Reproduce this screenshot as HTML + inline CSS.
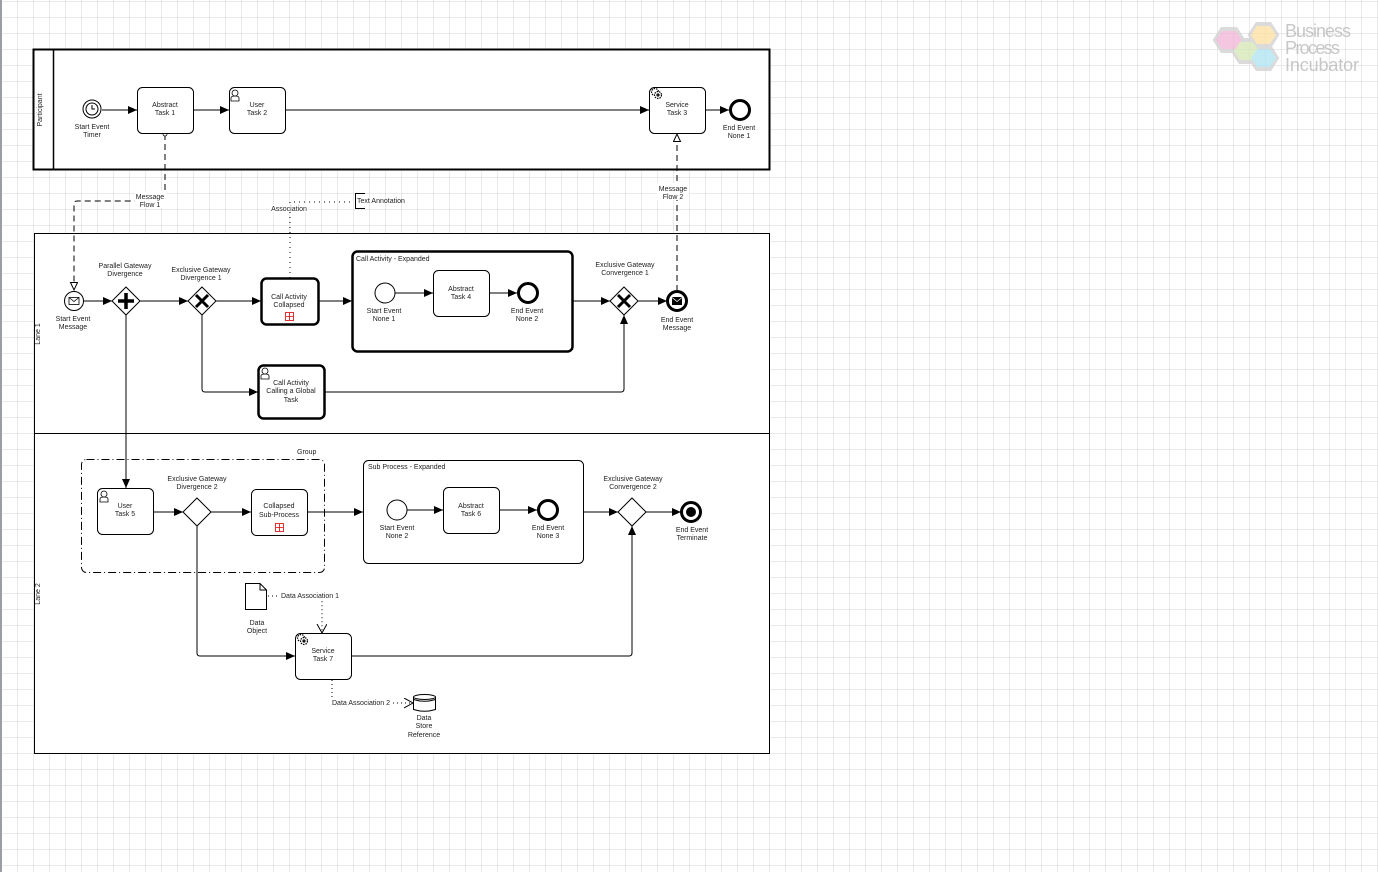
<!DOCTYPE html>
<html><head><meta charset="utf-8"><style>
html,body{margin:0;padding:0;background:#fff;}
body{width:1378px;height:872px;overflow:hidden;}
svg{display:block;}
text{font-family:"Liberation Sans",sans-serif;font-size:7px;fill:#222;}
</style></head><body>
<svg width="1378" height="872" xmlns="http://www.w3.org/2000/svg">
<defs>
<pattern id="g" x="1" y="1" width="16" height="16" patternUnits="userSpaceOnUse">
<path d="M0 0H16M0 0V16" stroke="#d4d4d4" stroke-width="1" fill="none"/>
</pattern>
<marker id="a" markerWidth="10" markerHeight="8" refX="9" refY="4" orient="auto" markerUnits="userSpaceOnUse"><path d="M0 0L9 4L0 8z" fill="#000"/></marker>
<marker id="ot" markerWidth="10" markerHeight="10" refX="8" refY="4" orient="auto" markerUnits="userSpaceOnUse"><path d="M0.5 0.5L8 4L0.5 7.5z" fill="#fff" stroke="#000" stroke-width="1"/></marker>
<marker id="oc" markerWidth="6" markerHeight="6" refX="3" refY="3" orient="auto" markerUnits="userSpaceOnUse"><circle cx="3" cy="3" r="2" fill="#fff" stroke="#000" stroke-width="0.8"/></marker>
<marker id="va" markerWidth="12" markerHeight="12" refX="9" refY="5" orient="auto" markerUnits="userSpaceOnUse"><path d="M0 0L9 5L0 10" fill="none" stroke="#000" stroke-width="1"/></marker>
</defs>
<rect width="1378" height="872" fill="url(#g)"/>
<rect x="0" y="0" width="2" height="872" fill="#9a9ea4"/>

<!-- logo -->
<g opacity="0.75">
<g fill="none" stroke="#cfcfcf" stroke-width="4">
<polygon points="1222,29 1236,29 1243,40 1236,51 1222,51 1215,40"/>
<polygon points="1257,24 1270,24 1277,35 1270,46 1257,46 1250,35"/>
<polygon points="1240,40 1253,40 1260,51 1253,62 1240,62 1233,51"/>
<polygon points="1257,47 1270,47 1277,58 1270,69 1257,69 1250,58"/>
</g>
<polygon points="1222,31 1236,31 1242,40 1236,49 1222,49 1216,40" fill="#f1b3d5"/>
<polygon points="1257,26 1270,26 1276,35 1270,44 1257,44 1251,35" fill="#fde0a0"/>
<polygon points="1240,42 1253,42 1259,51 1253,60 1240,60 1234,51" fill="#d5e8b5"/>
<polygon points="1257,49 1270,49 1276,58 1270,67 1257,67 1251,58" fill="#ade3f2"/>
<text x="1285" y="37" style="font-size:18px;fill:#b5b5b5" textLength="66">Business</text>
<text x="1285" y="54" style="font-size:18px;fill:#b5b5b5" textLength="55">Process</text>
<text x="1285" y="71" style="font-size:18px;fill:#b5b5b5" textLength="74">Incubator</text>
</g>

<!-- pool -->
<rect x="33.5" y="49.5" width="736" height="120" fill="#fff" stroke="#000" stroke-width="2"/>
<line x1="53.5" y1="49.5" x2="53.5" y2="169.5" stroke="#000" stroke-width="1.5"/>
<text transform="translate(42,110) rotate(-90)" text-anchor="middle">Participant</text>

<!-- lanes -->
<rect x="34.5" y="233.5" width="735" height="200" fill="#fff" stroke="#000"/>
<rect x="34.5" y="433.5" width="735" height="320" fill="#fff" stroke="#000"/>
<text transform="translate(40,334) rotate(-90)" text-anchor="middle">Lane 1</text>
<text transform="translate(40,594) rotate(-90)" text-anchor="middle">Lane 2</text>

<g stroke="#000" fill="none" stroke-width="1">
<line x1="102" y1="110" x2="137" y2="110" marker-end="url(#a)"/>
<line x1="193" y1="110" x2="229" y2="110" marker-end="url(#a)"/>
<line x1="285" y1="110" x2="649" y2="110" marker-end="url(#a)"/>
<line x1="705" y1="110" x2="729" y2="110" marker-end="url(#a)"/>
<path d="M165 134V198Q165 201 162 201H77Q74 201 74 204V290" stroke-dasharray="6,4" marker-start="url(#oc)" marker-end="url(#ot)"/>
<path d="M677 291V134" stroke-dasharray="6,4" marker-end="url(#ot)"/>
<path d="M290 278V202H352" stroke-dasharray="1,4"/>
<path d="M365 193.5H355.5V208.5H365"/>
<line x1="84" y1="301" x2="112" y2="301" marker-end="url(#a)"/>
<line x1="140" y1="301" x2="188" y2="301" marker-end="url(#a)"/>
<line x1="216" y1="301" x2="261" y2="301" marker-end="url(#a)"/>
<line x1="319" y1="301" x2="352" y2="301" marker-end="url(#a)"/>
<line x1="573" y1="301" x2="610" y2="301" marker-end="url(#a)"/>
<line x1="638" y1="301" x2="667" y2="301" marker-end="url(#a)"/>
<path d="M202 315V389Q202 392 205 392H258" marker-end="url(#a)"/>
<path d="M324 392H621Q624 392 624 389V315" marker-end="url(#a)"/>
<line x1="126" y1="315" x2="126" y2="488" marker-end="url(#a)"/>
<line x1="153" y1="512" x2="183" y2="512" marker-end="url(#a)"/>
<line x1="211" y1="512" x2="251" y2="512" marker-end="url(#a)"/>
<line x1="307" y1="512" x2="363" y2="512" marker-end="url(#a)"/>
<line x1="583" y1="512" x2="618" y2="512" marker-end="url(#a)"/>
<line x1="646" y1="512" x2="681" y2="512" marker-end="url(#a)"/>
<path d="M197 526V653Q197 656 200 656H295" marker-end="url(#a)"/>
<path d="M351 656H629Q632 656 632 653V526" marker-end="url(#a)"/>
<path d="M268 596H279" stroke-dasharray="1,3"/>
<path d="M340 596H319Q322 596 322 599V633" stroke-dasharray="1,3" marker-end="url(#va)"/>
<path d="M332 680V700" stroke-dasharray="1,3"/>
<path d="M393 703H413" stroke-dasharray="1,3" marker-end="url(#va)"/>
</g>

<rect x="135" y="191" width="32" height="17" fill="#fff"/>
<rect x="657" y="183" width="32" height="17" fill="#fff"/>
<rect x="270" y="204" width="38" height="8" fill="#fff"/>
<rect x="279" y="592" width="62" height="8" fill="#fff"/>
<rect x="330" y="699" width="63" height="8" fill="#fff"/>

<text x="150" y="199" text-anchor="middle">Message</text>
<text x="150" y="207" text-anchor="middle">Flow 1</text>
<text x="673" y="191" text-anchor="middle">Message</text>
<text x="673" y="199" text-anchor="middle">Flow 2</text>
<text x="289" y="211" text-anchor="middle">Association</text>
<text x="357" y="203">Text Annotation</text>
<text x="281" y="598">Data Association 1</text>
<text x="332" y="705">Data Association 2</text>

<g stroke="#000" fill="#fff">
<circle cx="92" cy="109" r="9"/>
<circle cx="92" cy="109" r="6"/>
<rect x="137.5" y="87.5" width="56" height="46" rx="5"/>
<rect x="229.5" y="87.5" width="56" height="46" rx="5"/>
<rect x="649.5" y="87.5" width="56" height="46" rx="5"/>
<circle cx="740" cy="110" r="9.5" stroke-width="3"/>
<circle cx="74" cy="301" r="9.5"/>
<polygon points="126,287 140,301 126,315 112,301"/>
<polygon points="202,287 216,301 202,315 188,301"/>
<rect x="261.5" y="278.5" width="57" height="46" rx="5" stroke-width="2.5"/>
<rect x="352.5" y="251.5" width="220" height="100" rx="5" stroke-width="2.5"/>
<circle cx="385" cy="293" r="10"/>
<rect x="433.5" y="270.5" width="56" height="46" rx="5"/>
<circle cx="528" cy="293" r="9.5" stroke-width="3"/>
<polygon points="624,287 638,301 624,315 610,301"/>
<circle cx="677" cy="301" r="9.5" stroke-width="3"/>
<rect x="258.5" y="365.5" width="66" height="53" rx="5" stroke-width="2.5"/>
<rect x="81.5" y="459.5" width="243" height="113" rx="5" fill="none" stroke-dasharray="8,3,1,3"/>
<rect x="97.5" y="488.5" width="56" height="46" rx="5"/>
<polygon points="197,498 211,512 197,526 183,512"/>
<rect x="251.5" y="489.5" width="56" height="46" rx="5"/>
<rect x="363.5" y="460.5" width="220" height="103" rx="5"/>
<circle cx="397" cy="510" r="10"/>
<rect x="443.5" y="487.5" width="56" height="46" rx="5"/>
<circle cx="548" cy="510" r="9.5" stroke-width="3"/>
<polygon points="632,498 646,512 632,526 618,512"/>
<circle cx="691" cy="512" r="9.5" stroke-width="3"/>
<rect x="295.5" y="633.5" width="56" height="46" rx="5"/>
<path d="M245.5 583.5H260L266.5 590V609.5H245.5Z"/>
<path d="M260 583.5V590H266.5" fill="none"/>
<path d="M413.5 697V709.5Q424.5 713 435.5 709.5V697"/>
<ellipse cx="424.5" cy="697" rx="11" ry="2.5"/>
<path d="M413.5 699.5Q424.5 703 435.5 699.5" fill="none"/>
</g>

<!-- inner flows (drawn after containers) -->
<g stroke="#000" fill="none" stroke-width="1">
<line x1="395" y1="293" x2="433" y2="293" marker-end="url(#a)"/>
<line x1="489" y1="293" x2="517" y2="293" marker-end="url(#a)"/>
<line x1="407" y1="510" x2="443" y2="510" marker-end="url(#a)"/>
<line x1="499" y1="510" x2="537" y2="510" marker-end="url(#a)"/>
</g>

<g stroke="#000" fill="none">
<path d="M92 105V109H95" stroke-width="1"/>
<rect x="69" y="297.5" width="10" height="7" stroke-width="0.8"/>
<path d="M69 297.5L74 301.5L79 297.5" stroke-width="0.8"/>
</g>
<rect x="672" y="297" width="10" height="8" fill="#000"/>
<path d="M672 297.5L677 301.5L682 297.5" stroke="#fff" stroke-width="0.8" fill="none"/>
<circle cx="691" cy="512" r="5" fill="#000"/>
<path d="M126 293V309M118 301H134" stroke="#000" stroke-width="3.5"/>
<path d="M196 295L208 307M208 295L196 307" stroke="#000" stroke-width="3"/>
<path d="M618 295L630 307M630 295L618 307" stroke="#000" stroke-width="3"/>
<g stroke="#d00" fill="none" stroke-width="0.8">
<rect x="285.5" y="312.5" width="8" height="8"/><path d="M289.5 313V320M286 316.5H293"/>
<rect x="275.5" y="523.5" width="8" height="8"/><path d="M279.5 524V531M276 527.5H283"/>
</g>
<g fill="#fff" stroke="#000" stroke-width="0.8">
<g transform="translate(235,93)"><path d="M-4 8V5Q-4 3 0 3Q4 3 4 5V8Z"/><circle cx="0" cy="0" r="3"/></g>
<g transform="translate(104,494)"><path d="M-4 8V5Q-4 3 0 3Q4 3 4 5V8Z"/><circle cx="0" cy="0" r="3"/></g>
<g transform="translate(265,371)"><path d="M-4 8V5Q-4 3 0 3Q4 3 4 5V8Z"/><circle cx="0" cy="0" r="3"/></g>
</g>
<g fill="#fff" stroke="#000" stroke-width="1.2">
<circle cx="655" cy="92" r="3.5" stroke-dasharray="1.5,1"/><circle cx="658" cy="95" r="3.5" stroke-dasharray="1.5,1"/><circle cx="658" cy="95" r="1"/>
<circle cx="301" cy="638" r="3.5" stroke-dasharray="1.5,1"/><circle cx="304" cy="641" r="3.5" stroke-dasharray="1.5,1"/><circle cx="304" cy="641" r="1"/>
</g>

<g text-anchor="middle">
<text x="92" y="129">Start Event</text><text x="92" y="137">Timer</text>
<text x="165" y="107">Abstract</text><text x="165" y="115">Task 1</text>
<text x="257" y="107">User</text><text x="257" y="115">Task 2</text>
<text x="677" y="107">Service</text><text x="677" y="115">Task 3</text>
<text x="739" y="130">End Event</text><text x="739" y="138">None 1</text>
<text x="73" y="321">Start Event</text><text x="73" y="329">Message</text>
<text x="125" y="268">Parallel Gateway</text><text x="125" y="276">Divergence</text>
<text x="201" y="272">Exclusive Gateway</text><text x="201" y="280">Divergence 1</text>
<text x="289" y="299">Call Activity</text><text x="289" y="307">Collapsed</text>
<text x="384" y="313">Start Event</text><text x="384" y="321">None 1</text>
<text x="461" y="291">Abstract</text><text x="461" y="299">Task 4</text>
<text x="527" y="313">End Event</text><text x="527" y="321">None 2</text>
<text x="625" y="267">Exclusive Gateway</text><text x="625" y="275">Convergence 1</text>
<text x="677" y="322">End Event</text><text x="677" y="330">Message</text>
<text x="291" y="385">Call Activity</text><text x="291" y="393">Calling a Global</text><text x="291" y="402">Task</text>
<text x="125" y="508">User</text><text x="125" y="516">Task 5</text>
<text x="197" y="481">Exclusive Gateway</text><text x="197" y="489">Divergence 2</text>
<text x="279" y="508">Collapsed</text><text x="279" y="517">Sub-Process</text>
<text x="397" y="530">Start Event</text><text x="397" y="538">None 2</text>
<text x="471" y="508">Abstract</text><text x="471" y="516">Task 6</text>
<text x="548" y="530">End Event</text><text x="548" y="538">None 3</text>
<text x="633" y="481">Exclusive Gateway</text><text x="633" y="489">Convergence 2</text>
<text x="692" y="532">End Event</text><text x="692" y="540">Terminate</text>
<text x="323" y="653">Service</text><text x="323" y="661">Task 7</text>
<text x="257" y="625">Data</text><text x="257" y="633">Object</text>
<text x="424" y="720">Data</text><text x="424" y="728">Store</text><text x="424" y="737">Reference</text>
</g>
<text x="356" y="261">Call Activity - Expanded</text>
<text x="368" y="469">Sub Process - Expanded</text>
<text x="297" y="454">Group</text>
</svg>
</body></html>
